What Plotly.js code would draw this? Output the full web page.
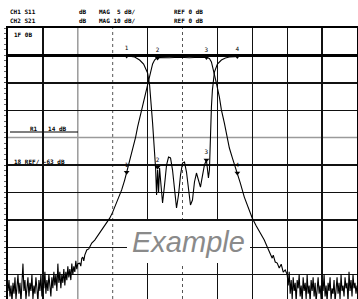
<!DOCTYPE html>
<html><head><meta charset="utf-8">
<script src="https://cdn.plot.ly/plotly-3.0.1.min.js"></script>
<style>html,body{margin:0;padding:0;background:#fff;overflow:hidden}#chart{width:358px;height:299px}</style>
</head><body><div id="chart"></div>
<script>
// ---- CH2 S21 (10 dB/div), frequency in MHz ----
const s21NoiseLowFreq = [800,801,802,803,804,805,806,807,808,809,810,811,812,813,814,815,816,817,818,819,820,821,822,823,824,825,826,827,828,829,830,831,832,833,834,835,836,837,838,839,840,841,842,843,844,845,846,847,848,849,850,851,852,853,854,855,856,857,858,859,860,861,862,863,864,865,866,867,868,869,870];
const s21NoiseLowDb = [-86,-82,-88,-84,-90,-83,-87,-81,-89,-85,
  -80,-87,-83,-90,-79,-76,-86,-82,-89,-84,
  -81,-88,-83,-86,-80,-89,-84,-87,-81,-85,
  -90,-82,-86,-80,-88,-83,-85,-79,-87,-82,
  -86,-80,-84,-88,-81,-85,-79,-84,-80,-86,
  -76,-83,-79,-85,-80,-83,-78,-84,-79,-82,
  -77,-81,-78,-82,-76,-80,-77,-79,-75,-78,-76];
const s21SkirtFreq = [872,873,874,875,876,877,878,879,881,884,
  887,889,892,894,897,899,902,905,909,912,
  914,917,919,922,925,928,930,933,935,937,
  939,941,942,944,945,947,949,952,962,972,
  982,992,999,1002,1004,1005,1007,1009,1012,1014,
  1017,1020,1022,1025,1028,1030,1033,1037,1041,1045,
  1049,1053,1057,1060,1063,1065,1066,1068,1070,1072,
  1074,1076,1078];
const s21SkirtDb = [-75.8,-76.9,-74.0,-73.6,-75.0,-72.9,-71.8,-71.0,-70.6,-68.5,
  -67.4,-66.3,-64.8,-63.8,-62.3,-61.2,-59.4,-57.2,-53.5,-51.3,
  -49.1,-45.5,-42.6,-38.9,-34.5,-29.8,-26.1,-21.4,-18.1,-15.2,
  -12.3,-9.0,-7.2,-4.6,-3.1,-1.7,-0.95,-0.77,-0.88,-0.69,
  -0.88,-0.69,-0.77,-1.13,-2.4,-3.9,-6.8,-10.1,-15.2,-19.9,
  -24.7,-29.8,-33.8,-37.4,-40.7,-42.9,-46.6,-51.7,-55.7,-59.4,
  -62.3,-64.8,-67.4,-69.9,-72.1,-74.0,-72.9,-75.4,-75.8,-77.6,
  -76.2,-79.1,-78.3];
const s21NoiseHighFreq = [1080,1081,1082,1083,1084,1085,1086,1087,1088,1089,1090,1091,1092,1093,1094,1095,1096,1097,1098,1099,1100,1101,1102,1103,1104,1105,1106,1107,1108,1109,1110,1111,1112,1113,1114,1115,1116,1117,1118,1119,1120,1121,1122,1123,1124,1125,1126,1127,1128,1129,1130,1131,1132,1133,1134,1135,1136,1137,1138,1139,1140,1141,1142,1143,1144,1145,1146,1147,1148,1149,1150];
const s21NoiseHighDb = [-80,-84,-79,-87,-82,-89,-81,-86,-83,-90,
  -82,-85,-80,-88,-84,-90,-81,-86,-83,-89,
  -80,-87,-84,-90,-82,-86,-81,-88,-83,-90,
  -85,-81,-87,-84,-89,-82,-86,-80,-88,-84,
  -90,-83,-86,-81,-89,-85,-87,-82,-90,-84,
  -81,-87,-83,-89,-80,-86,-84,-88,-81,-85,
  -83,-90,-79,-86,-82,-88,-80,-85,-83,-87,-84];

// ---- CH1 S11 (5 dB/div) ----
const s11Freq = [800,922,927,932,936,940,942,943,944,945,
  946,947,948,949,950,951,952,953,955,957,
  959,961,963,965,967,969,971,973,975,977,
  979,981,983,985,987,989,991,993,995,997,
  999,1000,1001,1002,1003,1004,1005,1007,1010,1014,
  1018,1022,1032,1150];
const s11Db = [-0.1,-0.15,-0.29,-0.84,-1.57,-3.2,-5.4,-7.41,-9.6,-12.34,
  -15.07,-17.63,-20.55,-25.48,-20.92,-24.93,-20.55,-22.74,-26.94,-23.65,
  -20.0,-18.54,-18.72,-20.92,-24.93,-27.85,-25.48,-21.83,-19.64,-19.46,
  -21.28,-24.2,-27.3,-26.39,-23.1,-21.46,-22.74,-24.02,-22.0,-20.0,
  -19.09,-20.55,-22.37,-20.92,-13.6,-9.42,-6.31,-3.03,-1.57,-0.84,
  -0.47,-0.29,-0.2,-0.1];

// ---- markers ----
const markerLabels = ['1','2','3','4'];
const markerFreq = [919, 950, 999, 1030];
const markerS11Db = [-0.1, -20.4, -19.1, -0.2];
const markerS21Db = [-42.6, -0.95, -0.77, -42.9];

// ---- texts ----
const headerRow1 = ['CH1 S11', 'dB', 'MAG  5 dB/', 'REF 0 dB'];
const headerRow2 = ['CH2 S21', 'dB', 'MAG 10 dB/', 'REF 0 dB'];
const sideTexts = ['1F 0B', 'R1   14 dB', '18 REF/ -63 dB'];
const watermark = 'Example';

const s21Freq = s21NoiseLowFreq.concat(s21SkirtFreq, s21NoiseHighFreq);
const s21Db = s21NoiseLowDb.concat(s21SkirtDb, s21NoiseHighDb);

const W = 358, H = 299, ML = 8, MR = 1, MT = 28, MB = 0;
const px = x => (x - ML) / (W - ML - MR);
const py = y => (H - MB - y) / (H - MT - MB);

const lineStyle = {color: '#000', width: 1.1};
const markFont = {family: 'DejaVu Sans Mono', size: 6, color: '#000000'};
const traces = [
  {x: s21Freq, y: s21Db, type: 'scatter', mode: 'lines', line: lineStyle, yaxis: 'y', hoverinfo: 'skip'},
  {x: s11Freq, y: s11Db, type: 'scatter', mode: 'lines', line: lineStyle, yaxis: 'y2', hoverinfo: 'skip'},
  {x: markerFreq, y: markerS21Db, type: 'scatter', mode: 'markers+text', text: markerLabels,
   textposition: 'top center', textfont: markFont,
   marker: {symbol: 'triangle-down', size: 5, color: '#000'}, yaxis: 'y', cliponaxis: false},
  {x: markerFreq, y: markerS11Db, type: 'scatter', mode: 'markers+text', text: markerLabels,
   textposition: 'top center', textfont: markFont,
   marker: {symbol: 'triangle-down', size: 5, color: '#000'}, yaxis: 'y2', cliponaxis: false}
];

const tinyFont = {family: 'DejaVu Sans Mono', size: 6, color: '#000000'};
const annotations = [];
const hdrX = [8, 77, 97, 172];
headerRow1.forEach((t, i) => annotations.push({text: '<b>' + t + '</b>', xref: 'paper', yref: 'paper', x: px(hdrX[i]), y: py(12), xanchor: 'left', yanchor: 'middle', showarrow: false, font: tinyFont}));
headerRow2.forEach((t, i) => annotations.push({text: '<b>' + t + '</b>', xref: 'paper', yref: 'paper', x: px(hdrX[i]), y: py(21), xanchor: 'left', yanchor: 'middle', showarrow: false, font: tinyFont}));
const sidePos = [[12, 35], [28, 128], [12, 161]];
sideTexts.forEach((t, i) => annotations.push({text: '<b>' + t + '</b>', xref: 'paper', yref: 'paper', x: px(sidePos[i][0]), y: py(sidePos[i][1]), xanchor: 'left', yanchor: 'middle', showarrow: false, font: tinyFont}));
annotations.push({text: '<i>' + watermark + '</i>', xref: 'paper', yref: 'paper', x: px(188), y: py(241.5), xanchor: 'center', yanchor: 'middle', showarrow: false,
  font: {family: 'Liberation Sans, Arial, sans-serif', size: 29, color: '#8a8a8a'}, bgcolor: '#fff', borderpad: 5, borderwidth: 0});

const shapes = [
  {type: 'line', xref: 'x', yref: 'paper', x0: 870, x1: 870, y0: 0, y1: 1, line: {color: '#9a9a9a', width: 1.5}, layer: 'below'},
  {type: 'line', xref: 'x', yref: 'paper', x0: 905, x1: 905, y0: 0, y1: 1, line: {color: '#555', width: 1, dash: 'dot'}, layer: 'below'},
  {type: 'line', xref: 'x', yref: 'paper', x0: 975, x1: 975, y0: 0, y1: 1, line: {color: '#555', width: 1, dash: 'dot'}, layer: 'below'},
  {type: 'line', xref: 'paper', yref: 'y', x0: 0, x1: 1, y0: -30, y1: -30, line: {color: '#9a9a9a', width: 1.5}, layer: 'below'},
  {type: 'line', xref: 'paper', yref: 'paper', x0: px(10), x1: px(78), y0: py(132), y1: py(132), line: {color: '#000', width: 1}, layer: 'below'}
];

const layout = {
  width: W, height: H,
  margin: {l: ML, r: MR, t: MT, b: MB, pad: 0},
  paper_bgcolor: '#fff', plot_bgcolor: '#fff',
  showlegend: false,
  xaxis: {range: [800, 1150], tickvals: [835, 940, 1010, 1045, 1080, 1115], showticklabels: false, ticks: '',
    showgrid: true, gridcolor: '#111', gridwidth: 1.4, zeroline: false, showline: true, side: 'top',
    linecolor: '#000', linewidth: 2, fixedrange: true},
  yaxis: {range: [-88.9, 10], tickvals: [-80, -70, -60, -50, -40, -20, -10], showticklabels: false,
    ticks: 'outside', ticklen: 2, tickcolor: '#444',
    minor: {dtick: 2, ticks: 'outside', ticklen: 2, tickcolor: '#666', showgrid: false},
    showgrid: true, gridcolor: '#111', gridwidth: 1.4, zeroline: true, zerolinecolor: '#000', zerolinewidth: 2.2,
    showline: true, mirror: true, linecolor: '#000', linewidth: 2, fixedrange: true},
  yaxis2: {range: [-44.45, 5], overlaying: 'y', showgrid: false, zeroline: false, showticklabels: false, ticks: '', showline: false, fixedrange: true},
  annotations: annotations,
  shapes: shapes
};

Plotly.newPlot('chart', traces, layout, {displayModeBar: false, staticPlot: true});
</script></body></html>
